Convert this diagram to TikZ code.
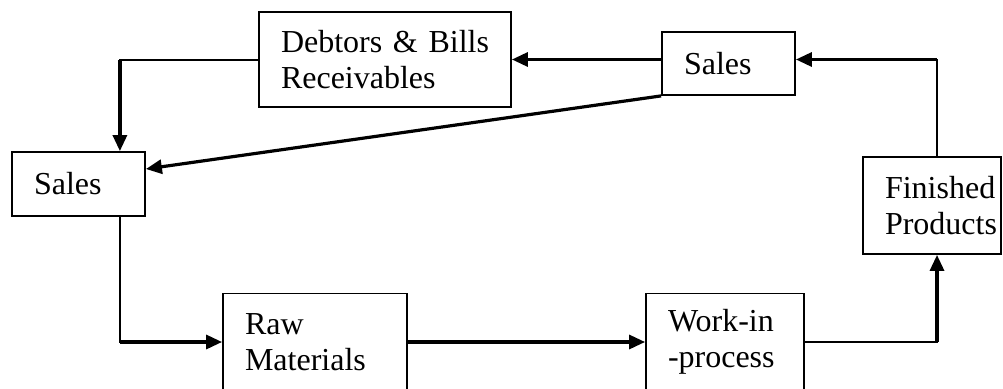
\documentclass[tikz,border=0pt]{standalone}
\usepackage{fontspec}
\setmainfont{Liberation Serif}
\usetikzlibrary{arrows.meta}

\tikzset{
    box/.style={draw, line width=1.8pt, inner xsep=22pt, inner ysep=0pt, align=left,
        font=\fontsize{32}{36}\selectfont,
        execute at begin node={\hyphenpenalty=10000 }},
    wire/.style={line width=2pt, line cap=rect},
    flow/.style={line width=3.2pt, -{Triangle[length=16pt,width=14pt]}},
}

\begin{document}
\begin{tikzpicture}[x=1pt, y=-1pt]
    \useasboundingbox (0, 0) rectangle (1003, 388);

    \node[box, text width=208pt, minimum height=95pt] (debtors) at (385, 59.5) {Debtors~\&~Bills\\Receivables};
    \node[box, text width=89pt, minimum height=63pt] (salesR) at (728.5, 63.5) {Sales};
    \node[box, text width=89pt, minimum height=64pt] (salesL) at (78.5, 184) {Sales};
    \node[box, text width=140pt, minimum height=97pt] (raw) at (315, 342) {Raw\\Materials};
    \node[box, text width=114pt, minimum height=97pt] (wip) at (725, 342) {Work-in\\-process};
    \node[box, text width=94pt, minimum height=97pt] (finished) at (932, 205.5) {Finished\\Products};

    \coordinate (inL) at ([xshift=-26pt]salesL.north east);
    \coordinate (outL) at ([xshift=-26pt]salesL.south east);
    \coordinate (up) at ([xshift=5pt]finished.north);
    \coordinate (down) at ([xshift=5pt]finished.south);

    \draw[flow] (salesR.west |- debtors.east) -- (debtors.east);

    \draw[wire] (up) -- (up |- debtors.east);
    \draw[flow] (up |- debtors.east) -- (salesR.east |- debtors.east);

    \draw[wire] (debtors.west) -- (debtors.west -| inL);
    \draw[flow] (debtors.west -| inL) -- (inL);

    \draw[flow] (salesR.south west) -- ([yshift=15pt]salesL.east);

    \draw[wire] (outL) -- (outL |- raw.west);
    \draw[flow] (outL |- raw.west) -- (raw.west);

    \draw[flow] (raw.east) -- (wip.west);

    \draw[wire] (wip.east) -- (wip.east -| down);
    \draw[flow] (wip.east -| down) -- (down);
\end{tikzpicture}
\end{document}
